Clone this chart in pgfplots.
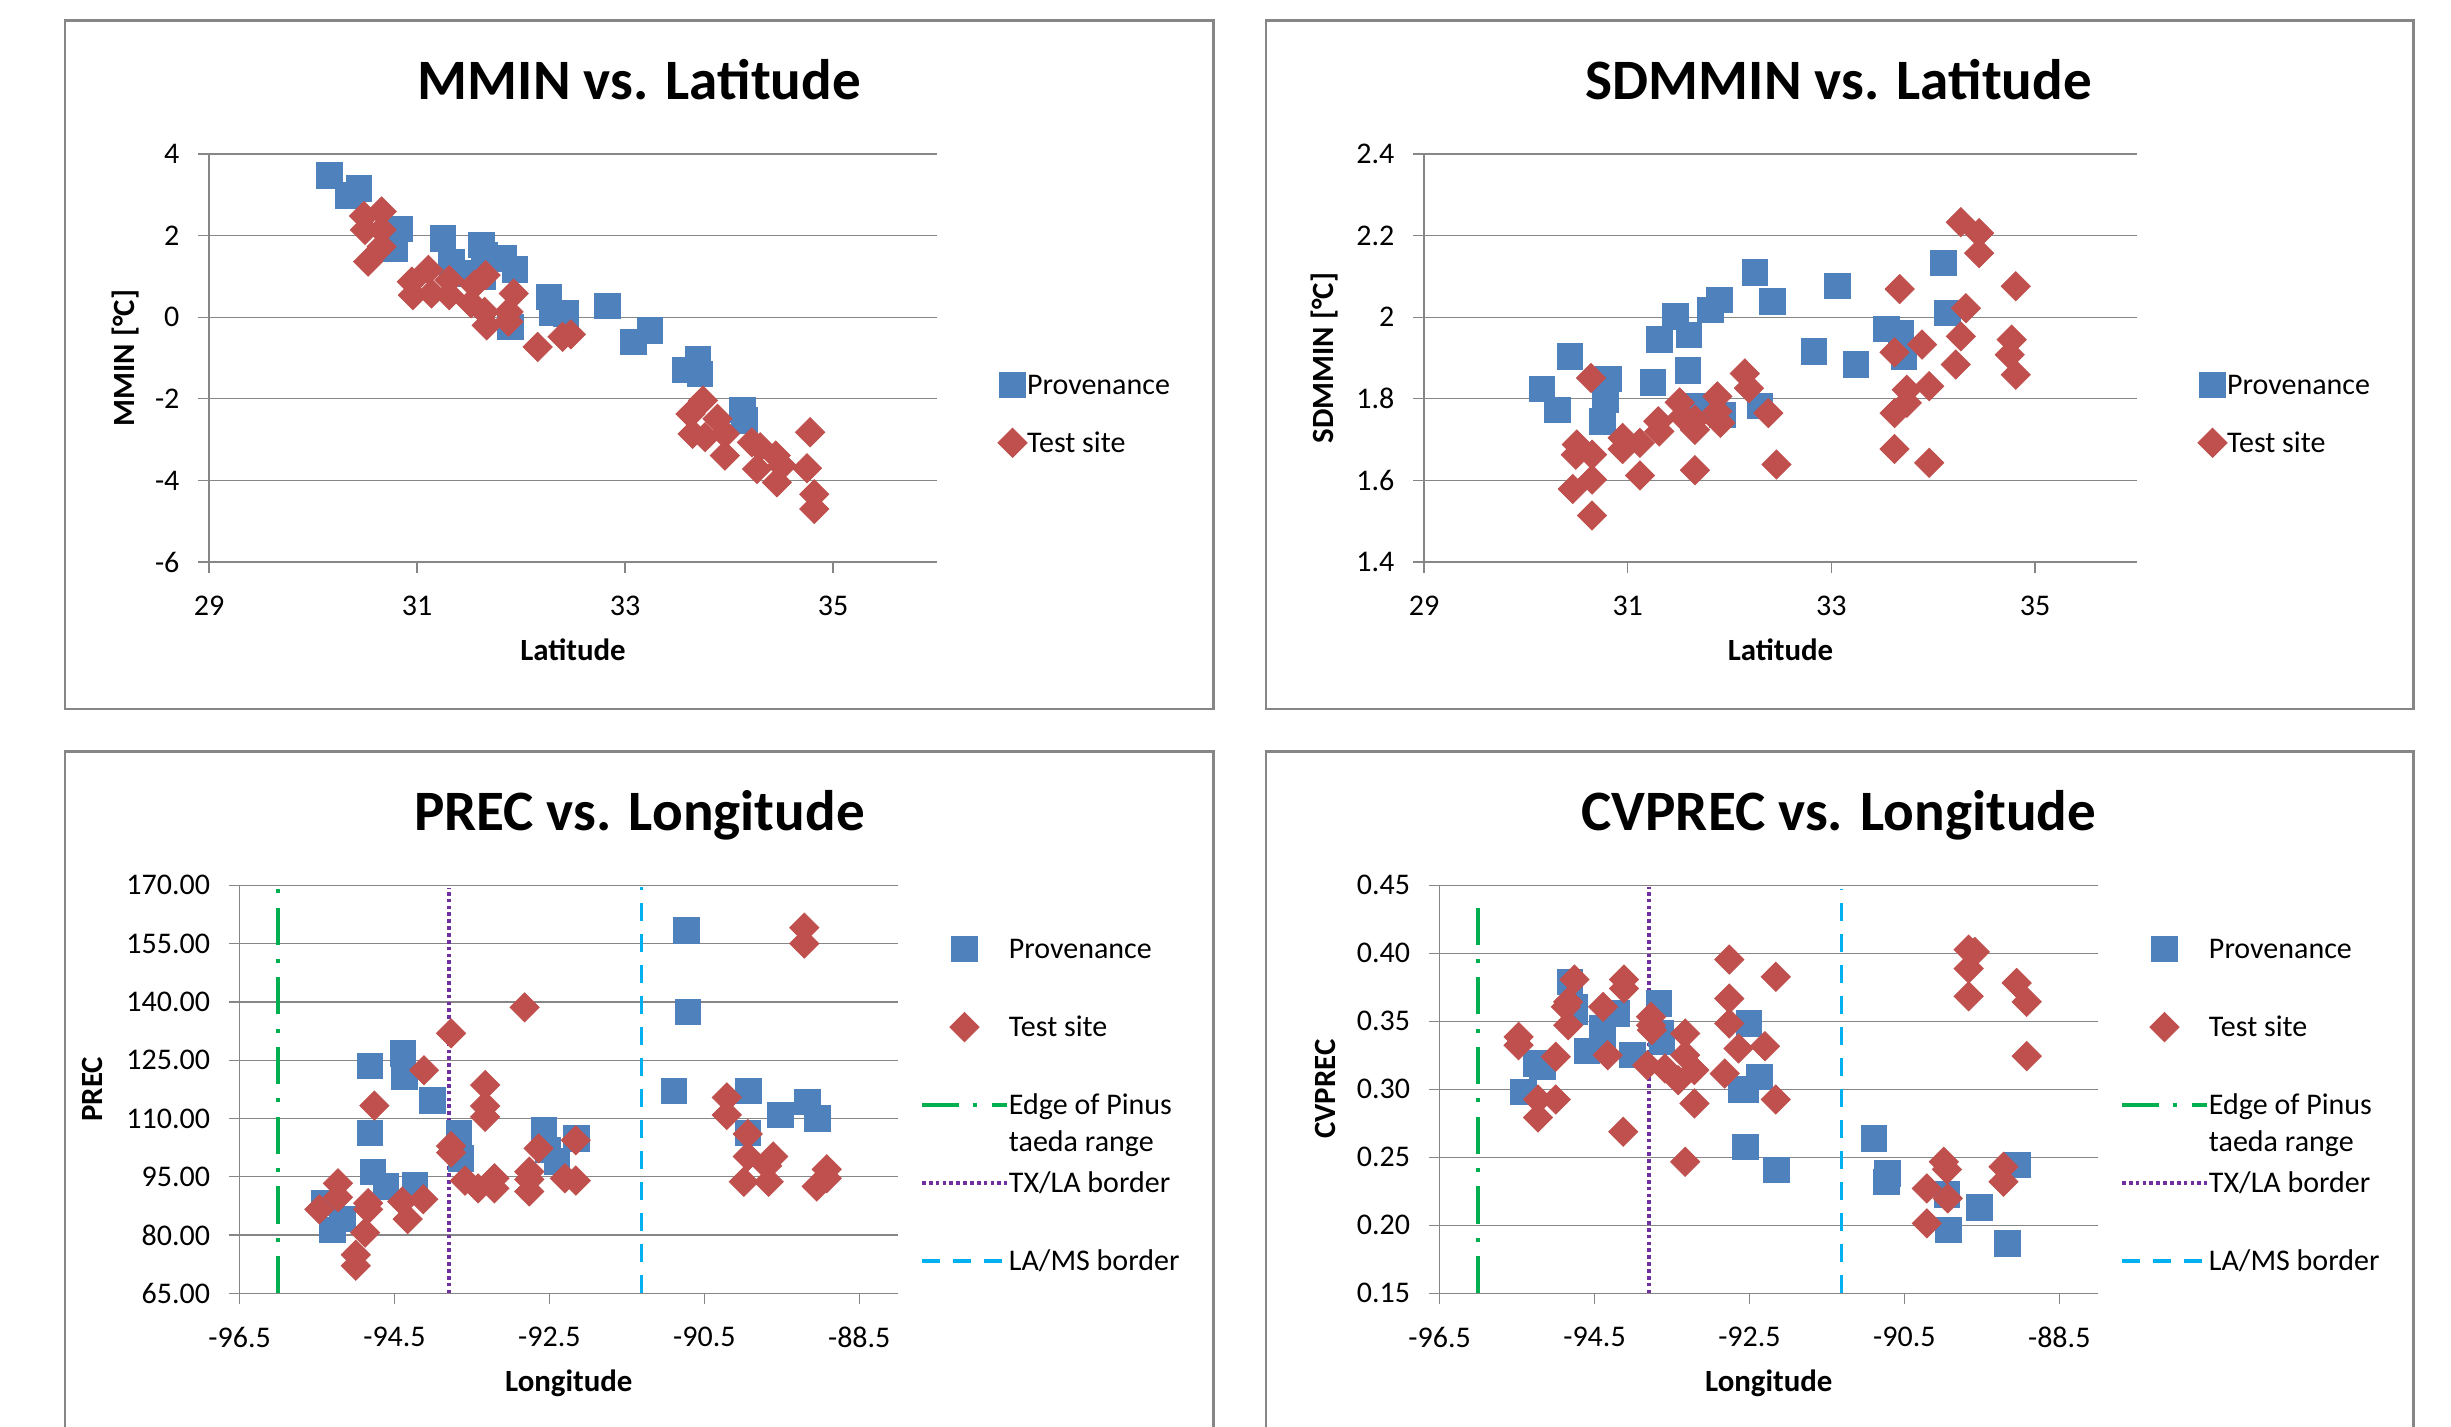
\documentclass[border=0pt]{standalone}
\usepackage{pgfplots}
\pgfplotsset{compat=1.18}
\usepackage{fontspec}
\setmainfont{Carlito}
\definecolor{xblue}{HTML}{4F81BD}
\definecolor{xred}{HTML}{C0504D}
\definecolor{xgreen}{HTML}{00B050}
\definecolor{xpurple}{HTML}{7030A0}
\definecolor{xcyan}{HTML}{00B0F0}
\definecolor{xgrid}{HTML}{868686}
\newcommand{\tickfont}{\fontsize{10.5}{12.6}\selectfont}
\newcommand{\labfont}{\fontsize{10.8}{13}\selectfont\bfseries}
\newcommand{\titfont}{\fontsize{20}{24}\selectfont\bfseries}
\newcommand{\legfont}{\fontsize{10.5}{12.95}\selectfont}
\pgfplotsset{
 excel/.style={
   scale only axis, height=142.8pt,
   axis x line*=bottom, axis y line*=left,
   axis line style={xgrid, line width=0.45pt, -},
   ymajorgrids, grid style={xgrid, line width=0.45pt},
   tick align=outside, major tick length=3.85pt,
   tick style={xgrid, line width=0.45pt},
   ticklabel style={font=\tickfont, inner sep=0pt},
   xticklabel style={yshift=-7.7pt},
   yticklabel style={xshift=-6.3pt},
   label style={font=\labfont},
   xlabel style={at={(axis description cs:0.5,-0.2417)}, anchor=base},
   clip=false,
   legend cell align=left,
 },
 leg/.style 2 args={legend style={draw=none, fill=none, inner sep=0pt, outer sep=0pt,
   font=\legfont, row sep=#2, nodes={inner sep=0pt, text height=9.5pt, text depth=3pt},
   /tikz/every even column/.append style={column sep=#1}}},
 prov/.style={only marks, mark=square*, mark size=4.45pt, mark options={fill=xblue, draw=xblue, line width=0.3pt}},
 test/.style={only marks, mark=square*, mark size=3.6pt, mark options={rotate=45, fill=xred, draw=xred, line width=0.3pt}},
 sleg1/.style={legend image code/.code={\path[draw=none,fill=none] (0pt,-1pt) rectangle (9.1pt,1pt); \draw[##1,draw=none] plot coordinates {(4.55pt,0pt)};}},
 sleg3/.style={legend image code/.code={\path[draw=none,fill=none] (0pt,-1pt) rectangle (29.75pt,1pt); \draw[##1,draw=none] plot coordinates {(14.875pt,0pt)};}},
 lleg/.style={legend image code/.code={\draw[##1] (0pt,0pt) -- (29.75pt,0pt);}},
 edge/.style={xgreen, line width=1.3pt, dash pattern=on 13pt off 5pt on 1.4pt off 5pt},
 txla/.style={xpurple, line width=1.4pt, dash pattern=on 1.3pt off 1.1pt},
 lams/.style={xcyan, line width=1.3pt, dash pattern=on 6.3pt off 4.55pt},
}
\begin{document}
\begin{tikzpicture}
\fill[white] (0,0) rectangle (857.85pt,499.1pt);
\useasboundingbox (0,0) rectangle (857.85pt,499.1pt);
\draw[xgrid, line width=0.85pt] (22.75pt,250.85pt) rectangle (424.66pt,491.86pt);
\draw[xgrid, line width=0.85pt] (443.1pt,250.85pt) rectangle (844.66pt,491.86pt);
\draw[xgrid, line width=0.85pt] (22.75pt,-3pt) -- (22.75pt,236.1pt) -- (424.66pt,236.1pt) -- (424.66pt,-3pt);
\draw[xgrid, line width=0.85pt] (443.1pt,-3pt) -- (443.1pt,236.1pt) -- (844.66pt,236.1pt) -- (844.66pt,-3pt);

% ---------------- Panel 1
\begin{axis}[excel, at={(73.15pt,302.4pt)}, anchor=south west, width=254.8pt,
  xmin=29, xmax=36, ymin=-6, ymax=4,
  xtick={29,31,33,35}, xticklabels={29,31,33,35},
  ytick={-6,-4,-2,0,2,4}, yticklabels={-6,-4,-2,0,2,4},
  xlabel={Latitude}, ylabel={MMIN [°C]},
  ylabel style={at={(axis description cs:-0.114,0.5)}, anchor=center},
  leg={1.05pt}{7.8pt},
  legend style={at={(axis description cs:1.0838,0.3632)}, anchor=west}]
\addplot[prov, sleg1] coordinates {(30.16,3.47)(30.34,2.98)(30.44,3.16)(30.83,2.16)(30.79,1.69)(31.25,1.93)(31.33,1.36)(31.50,1.07)(31.62,1.77)(31.65,1.52)(31.63,1.0)(31.83,1.44)(31.94,1.17)(31.90,-0.24)(32.27,0.50)(32.30,0.11)(32.43,0.09)(32.83,0.27)(33.08,-0.61)(33.24,-0.32)(33.58,-1.29)(33.70,-1.02)(33.72,-1.39)(34.13,-2.27)(34.15,-2.53)};
\addlegendentry{Provenance}
\addplot[test, sleg1] coordinates {(30.49,2.48)(30.66,2.59)(30.50,2.14)(30.66,2.14)(30.66,1.73)(30.53,1.36)(30.95,0.87)(30.96,0.54)(31.11,1.16)(31.14,0.58)(31.31,0.91)(31.31,0.54)(31.55,0.79)(31.66,1.03)(31.52,0.34)(31.65,0.13)(31.67,-0.20)(31.93,0.58)(31.88,0.13)(31.88,-0.11)(32.16,-0.73)(32.40,-0.48)(32.48,-0.42)(33.63,-2.37)(33.75,-2.04)(33.65,-2.86)(33.77,-2.94)(33.89,-2.49)(33.96,-2.86)(33.96,-3.39)(34.22,-3.07)(34.30,-3.19)(34.27,-3.72)(34.45,-3.39)(34.51,-3.64)(34.46,-4.05)(34.78,-2.82)(34.75,-3.70)(34.82,-4.34)(34.82,-4.70)};
\addlegendentry{Test site}
\end{axis}

% ---------------- Panel 2
\begin{axis}[excel, at={(498.4pt,302.4pt)}, anchor=south west, width=249.55pt,
  xmin=29, xmax=36, ymin=1.4, ymax=2.4,
  xtick={29,31,33,35}, xticklabels={29,31,33,35},
  ytick={1.4,1.6,1.8,2.0,2.2,2.4}, yticklabels={1.4,1.6,1.8,2,2.2,2.4},
  xlabel={Latitude}, ylabel={SDMMIN [°C]},
  ylabel style={at={(axis description cs:-0.139,0.5)}, anchor=center},
  leg={1.05pt}{7.8pt},
  legend style={at={(axis description cs:1.0856,0.3632)}, anchor=west}]
\addplot[prov, sleg1] coordinates {(30.16,1.824)(30.31,1.773)(30.43,1.904)(30.81,1.849)(30.78,1.798)(30.75,1.745)(31.25,1.840)(31.31,1.945)(31.47,2.002)(31.60,1.957)(31.59,1.870)(31.69,1.782)(31.81,2.018)(31.90,2.043)(31.93,1.761)(32.25,2.110)(32.42,2.039)(32.30,1.782)(32.83,1.916)(33.06,2.076)(33.24,1.884)(33.54,1.971)(33.68,1.960)(33.71,1.904)(34.10,2.133)(34.14,2.010)};
\addlegendentry{Provenance}
\addplot[test, sleg1] coordinates {(30.64,1.851)(30.50,1.688)(30.49,1.663)(30.65,1.663)(30.46,1.579)(30.65,1.602)(30.65,1.514)(30.95,1.704)(30.95,1.677)(31.12,1.692)(31.12,1.612)(31.30,1.745)(31.31,1.720)(31.51,1.791)(31.54,1.757)(31.66,1.749)(31.66,1.724)(31.66,1.625)(31.88,1.806)(31.88,1.769)(31.91,1.741)(32.15,1.862)(32.19,1.826)(32.38,1.765)(32.46,1.639)(33.67,2.069)(33.62,1.914)(33.89,1.933)(33.74,1.822)(33.74,1.790)(33.62,1.765)(33.96,1.831)(33.62,1.677)(33.96,1.643)(34.27,2.233)(34.45,2.206)(34.45,2.157)(34.32,2.022)(34.27,1.953)(34.22,1.884)(34.81,2.076)(34.77,1.945)(34.75,1.908)(34.81,1.859)};
\addlegendentry{Test site}
\end{axis}

% ---------------- Panel 3
\begin{axis}[excel, at={(83.86pt,46.45pt)}, anchor=south west, width=230.44pt,
  xmin=-96.5, xmax=-88, ymin=65, ymax=170,
  xtick={-96.5,-94.5,-92.5,-90.5,-88.5}, xticklabels={-96.5,-94.5,-92.5,-90.5,-88.5},
  ytick={65,80,95,110,125,140,155,170}, yticklabels={65.00,80.00,95.00,110.00,125.00,140.00,155.00,170.00},
  xlabel={Longitude}, ylabel={PREC},
  ylabel style={at={(axis description cs:-0.2227,0.5)}, anchor=center},
  leg={2.1pt}{14.8pt},
  legend style={at={(axis description cs:1.0334,0.4612)}, anchor=west}]
\addplot[prov, sleg3] coordinates {(-94.82,123.5)(-94.39,126.7)(-94.37,120.7)(-94.01,114.6)(-94.82,106.2)(-94.78,96.3)(-94.61,92.5)(-94.24,92.9)(-95.41,88.2)(-95.17,84.1)(-95.30,81.3)(-93.67,106.2)(-93.64,99.7)(-92.57,107.0)(-92.52,101.9)(-92.40,98.9)(-92.15,104.9)(-90.73,158.4)(-90.71,137.4)(-90.89,117.1)(-89.93,117.1)(-89.94,106.2)(-89.52,110.9)(-89.17,114.3)(-89.04,110.0)};
\addlegendentry{Provenance}
\addplot[test, sleg3] coordinates {(-95.47,86.6)(-95.23,93.3)(-95.23,89.7)(-94.76,113.3)(-94.84,88.2)(-94.84,86.6)(-94.88,80.6)(-95.00,74.9)(-95.00,72.1)(-94.12,122.4)(-94.40,88.6)(-94.33,84.1)(-94.13,89.2)(-93.77,131.9)(-93.77,102.9)(-93.77,101.2)(-93.59,94.0)(-93.42,92.0)(-93.21,94.6)(-93.21,92.0)(-93.33,118.6)(-93.33,113.2)(-93.33,110.4)(-92.82,138.6)(-92.76,96.3)(-92.76,94.3)(-92.76,91.2)(-92.64,102.3)(-92.30,94.6)(-92.16,104.4)(-92.16,94.0)(-90.21,115.4)(-90.21,110.9)(-89.94,106.0)(-89.94,100.2)(-89.99,93.7)(-89.69,97.8)(-89.61,100.2)(-89.67,93.7)(-89.21,159.1)(-89.21,155.0)(-89.05,92.5)(-88.92,96.9)(-88.92,94.6)};
\addlegendentry{Test site}
\addplot[edge, lleg] coordinates {(-96.0,65) (-96.0,169.2)};
\addlegendentry{\smash{\begin{tabular}[t]{@{}l@{}}Edge of Pinus\\taeda range\end{tabular}}}
\addplot[txla, lleg] coordinates {(-93.8,65) (-93.8,169.2)};
\addlegendentry{TX/LA border}
\addplot[lams, lleg] coordinates {(-91.31,65) (-91.31,169.5)};
\addlegendentry{LA/MS border}
\end{axis}

% ---------------- Panel 4
\begin{axis}[excel, at={(503.86pt,46.45pt)}, anchor=south west, width=230.44pt,
  xmin=-96.5, xmax=-88, ymin=0.15, ymax=0.45,
  xtick={-96.5,-94.5,-92.5,-90.5,-88.5}, xticklabels={-96.5,-94.5,-92.5,-90.5,-88.5},
  ytick={0.15,0.20,0.25,0.30,0.35,0.40,0.45}, yticklabels={0.15,0.20,0.25,0.30,0.35,0.40,0.45},
  xlabel={Longitude}, ylabel={CVPREC},
  ylabel style={at={(axis description cs:-0.174,0.5)}, anchor=center},
  leg={2.1pt}{14.8pt},
  legend style={at={(axis description cs:1.0334,0.4612)}, anchor=west}]
\addplot[prov, sleg3] coordinates {(-94.82,0.379)(-94.76,0.3606)(-94.76,0.357)(-94.40,0.3447)(-94.22,0.3557)(-94.40,0.3312)(-94.60,0.3283)(-94.01,0.3251)(-95.26,0.319)(-95.17,0.3165)(-95.42,0.2982)(-93.67,0.3631)(-93.64,0.341)(-93.63,0.335)(-92.51,0.3484)(-92.37,0.3092)(-92.61,0.2994)(-92.55,0.300)(-92.55,0.2577)(-92.15,0.2406)(-90.89,0.2639)(-90.72,0.2381)(-90.73,0.232)(-89.95,0.2227)(-89.93,0.1965)(-89.53,0.2132)(-89.17,0.1867)(-89.04,0.2443)};
\addlegendentry{Provenance}
\addplot[test, sleg3] coordinates {(-95.48,0.3386)(-95.48,0.3324)(-95.23,0.2925)(-95.23,0.2793)(-95.00,0.3239)(-95.00,0.2925)(-94.76,0.3807)(-94.84,0.3643)(-94.87,0.3606)(-94.84,0.3471)(-94.39,0.3606)(-94.33,0.3251)(-94.12,0.3807)(-94.12,0.3741)(-94.13,0.2688)(-93.77,0.3533)(-93.77,0.3471)(-93.76,0.3435)(-93.82,0.3177)(-93.59,0.3153)(-93.42,0.3067)(-93.33,0.341)(-93.33,0.3251)(-93.21,0.3141)(-93.21,0.2896)(-93.33,0.2467)(-92.76,0.3954)(-92.76,0.3667)(-92.76,0.3484)(-92.64,0.33)(-92.82,0.3116)(-92.30,0.3317)(-92.16,0.3827)(-92.16,0.2925)(-90.21,0.2271)(-90.21,0.2014)(-89.99,0.2467)(-89.95,0.2411)(-89.94,0.2198)(-89.67,0.4027)(-89.59,0.401)(-89.67,0.3888)(-89.67,0.3684)(-89.22,0.243)(-89.22,0.232)(-89.05,0.3782)(-88.92,0.3643)(-88.92,0.3244)};
\addlegendentry{Test site}
\addplot[edge, lleg] coordinates {(-96.0,0.15) (-96.0,0.444)};
\addlegendentry{\smash{\begin{tabular}[t]{@{}l@{}}Edge of Pinus\\taeda range\end{tabular}}}
\addplot[txla, lleg] coordinates {(-93.8,0.15) (-93.8,0.449)};
\addlegendentry{TX/LA border}
\addplot[lams, lleg] coordinates {(-91.31,0.15) (-91.31,0.447)};
\addlegendentry{LA/MS border}
\end{axis}

\node[anchor=base, font=\titfont] at (223.8pt,464.35pt) {MMIN vs. Latitude};
\node[anchor=base, font=\titfont] at (643.6pt,464.35pt) {SDMMIN vs. Latitude};
\node[anchor=base, font=\titfont] at (223.8pt,208.36pt) {PREC vs. Longitude};
\node[anchor=base, font=\titfont] at (643.6pt,208.36pt) {CVPREC vs. Longitude};
\end{tikzpicture}
\end{document}
